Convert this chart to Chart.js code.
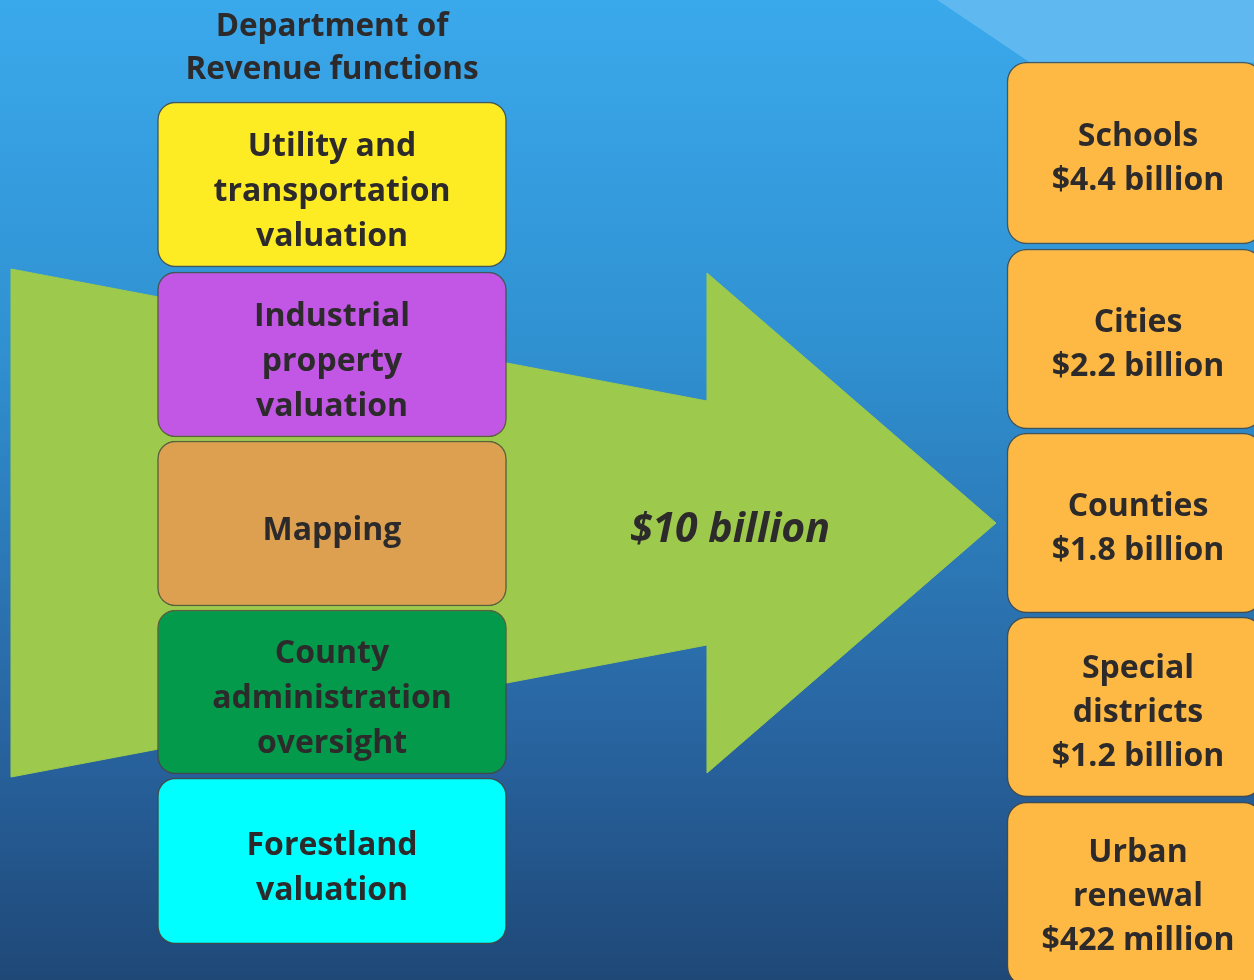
<!DOCTYPE html>
<html>
<head>
<meta charset="utf-8">
<script src="https://cdn.jsdelivr.net/npm/chart.js@4.4.1/dist/chart.umd.min.js"></script>
<style>
  html, body { margin: 0; padding: 0; background: #2a6fab; }
  #wrap { width: 1254px; height: 980px; }
</style>
</head>
<body>
<div id="wrap"><canvas id="flowChart"></canvas></div>
<script>
// Department of Revenue functions (left column)
const functionLabels = [
    ['Utility and', 'transportation', 'valuation'],
    ['Industrial', 'property', 'valuation'],
    ['Mapping'],
    ['County', 'administration', 'oversight'],
    ['Forestland', 'valuation']
]
const functionColors = ['#fdeb23', '#c257e6', '#dca050', '#039b4b', '#00ffff']
const functionTop = [102, 272, 441, 610, 778]
const functionBottom = [267, 437, 606, 774, 944]

// where the property tax goes (right column)
const recipientNames = [['Schools'], ['Cities'], ['Counties'], ['Special', 'districts'], ['Urban', 'renewal']]
const recipientAmounts = ['$4.4 billion', '$2.2 billion', '$1.8 billion', '$1.2 billion', '$422 million']
const recipientTop = [62, 249, 433, 617, 802]
const recipientBottom = [244, 429, 613, 797, 986]

// the big arrow carrying the total
const totalLabel = '$10 billion'
const arrowX = [11, 707, 707, 996, 707, 707, 11, 11]
const arrowY = [269, 401, 273, 523, 773, 645, 777, 269]

// light band in the top right corner
const glowX = [938, 1254, 1254, 1030, 938]
const glowY = [0, 0, 62, 62, 0]

const textColor = '#2d2a2b'
const fontFamily = "'Open Sans', 'Noto Sans', sans-serif"

const backdrop = {
    id: 'backdrop',
    beforeDraw(chart) {
        const c = chart.ctx
        const g = c.createLinearGradient(0, 0, 0, chart.height)
        g.addColorStop(0, '#3aa9ec')
        g.addColorStop(0.35, '#3091d1')
        g.addColorStop(0.75, '#2864a0')
        g.addColorStop(1, '#1f4877')
        c.save()
        c.fillStyle = g
        c.fillRect(0, 0, chart.width, chart.height)
        c.restore()
    }
}

const boxLabels = {
    id: 'boxLabels',
    afterDatasetsDraw(chart) {
        const c = chart.ctx
        const drawLines = (lines, x, cy, lh) => {
            const start = cy - (lines.length - 1) * lh / 2
            lines.forEach((l, i) => c.fillText(l, x, start + i * lh))
        }
        c.save()
        c.fillStyle = textColor
        c.textAlign = 'center'
        c.textBaseline = 'middle'
        c.font = 'bold 32px ' + fontFamily

        const left = chart.getDatasetMeta(0).data
        left.forEach((bar, i) => {
            const {x, y, base} = bar.getProps(['x', 'y', 'base'], true)
            drawLines(functionLabels[i], x, (y + base) / 2 + 7, 45)
        })
        chart.getDatasetMeta(1).data.forEach((bar, i) => {
            const {x, y, base} = bar.getProps(['x', 'y', 'base'], true)
            const lines = recipientNames[i].concat([recipientAmounts[i]])
            drawLines(lines, x + 3, (Math.min(y, base) + Math.min(Math.max(y, base), chart.height)) / 2 + 6, 44)
        })

        // column header above the first box
        const first = left[0].getProps(['x', 'y', 'base'], true)
        c.font = 'bold 31.5px ' + fontFamily
        drawLines(['Department of', 'Revenue functions'], first.x, Math.min(first.y, first.base) - 53, 43)

        // total on the arrow
        const xs = chart.scales.x
        const ys = chart.scales.y
        c.font = 'italic bold 41px ' + fontFamily
        c.fillText(totalLabel, xs.getPixelForValue(arrowX[2]) + 23, ys.getPixelForValue(arrowY[3]) + 7)
        c.restore()
    }
}

const ctx = document.getElementById('flowChart').getContext('2d')
const flowChart = new Chart(ctx, {
    type: 'bar',
    data: {
        datasets: [
            {
                label: 'Department of Revenue functions',
                data: functionTop.map((t, i) => ({x: 332, y: [t, functionBottom[i]]})),
                backgroundColor: functionColors,
                borderColor: 'rgba(72, 70, 58, 0.8)',
                borderWidth: 1.5,
                borderRadius: 18,
                borderSkipped: false,
                barThickness: 349,
                stack: 'boxes',
                order: 0
            },
            {
                label: 'Distribution',
                data: recipientTop.map((t, i) => ({x: 1135, y: [t, recipientBottom[i]]})),
                backgroundColor: '#fdb944',
                borderColor: 'rgba(72, 70, 58, 0.8)',
                borderWidth: 1.5,
                borderRadius: 20,
                borderSkipped: false,
                barThickness: 256,
                stack: 'boxes',
                order: 0
            },
            {
                type: 'line',
                label: 'Total',
                data: arrowX.map((x, i) => ({x: x, y: arrowY[i]})),
                backgroundColor: '#9dca4c',
                borderColor: '#9dca4c',
                borderWidth: 1,
                pointRadius: 0,
                tension: 0,
                fill: 'shape',
                order: 1
            },
            {
                type: 'line',
                label: 'Glow',
                data: glowX.map((x, i) => ({x: x, y: glowY[i]})),
                backgroundColor: '#5fb9f0',
                borderColor: '#5fb9f0',
                borderWidth: 1,
                pointRadius: 0,
                tension: 0,
                fill: 'shape',
                order: 2
            }
        ]
    },
    options: {
        responsive: true,
        maintainAspectRatio: false,
        animation: false,
        events: [],
        layout: { padding: 0 },
        plugins: {
            legend: { display: false },
            tooltip: { enabled: false }
        },
        scales: {
            x: { type: 'linear', min: 0, max: 1254, display: false, offset: false, stacked: true },
            y: { type: 'linear', min: 0, max: 980, reverse: true, display: false, stacked: false }
        }
    },
    plugins: [backdrop, boxLabels]
})
</script>
</body>
</html>
